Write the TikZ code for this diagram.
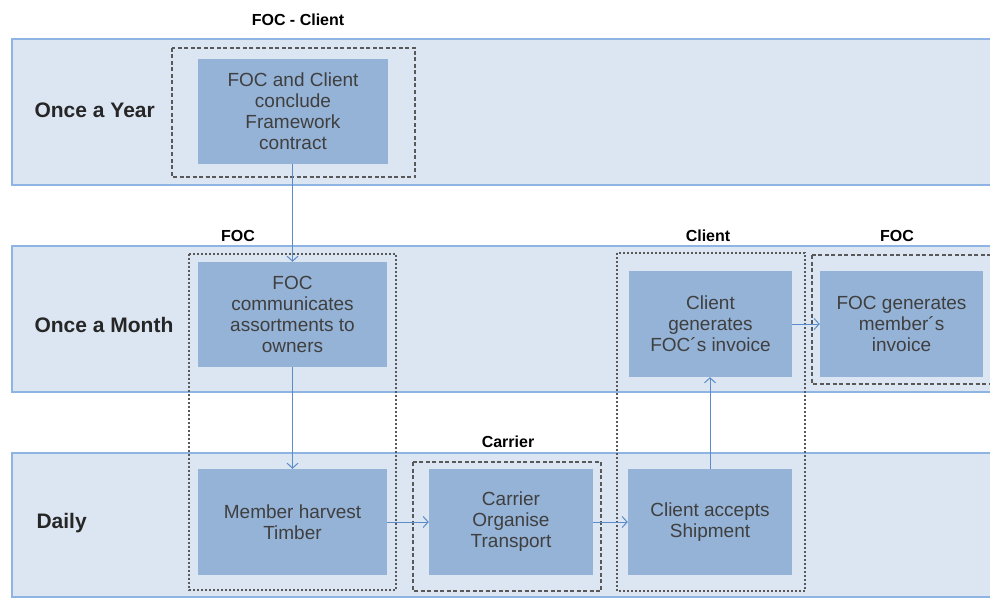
\documentclass[tikz,border=0pt]{standalone}
\usepackage{fontspec}
\setmainfont{Liberation Sans}
\usetikzlibrary{arrows.meta}
\definecolor{bandfill}{HTML}{DCE6F2}
\definecolor{bandline}{HTML}{8EB4E3}
\definecolor{boxfill}{HTML}{95B3D7}
\definecolor{flow}{HTML}{5B8BC9}
\definecolor{boxtext}{HTML}{3F3F3F}
\tikzset{
  band/.style={draw=bandline, line width=1.5pt, fill=bandfill},
  task/.style={fill=boxfill, align=center, text=boxtext, font=\fontsize{19}{21}\selectfont, inner sep=0pt},
  role/.style={font=\fontsize{16}{18}\selectfont\bfseries},
  freq/.style={anchor=west, font=\fontsize{21}{23}\selectfont\bfseries, text=black!85},
  grpdash/.style={draw=black!65, line width=1.6pt, dash pattern=on 4pt off 2.5pt},
  grpdot/.style={draw=black!65, line width=1.6pt, dash pattern=on 1.6pt off 2.4pt},
  flowarr/.style={-{Straight Barb[length=5pt,width=11pt]}, draw=flow, line width=1pt}
}
\begin{document}
\begin{tikzpicture}[x=1pt, y=-1pt]
\useasboundingbox (0,0) rectangle (990,599);
\clip (0,0) rectangle (990,599);
% bands
\draw[band] (12,39) rectangle (1010,185);
\draw[band] (12,246) rectangle (1010,392);
\draw[band] (12,453) rectangle (1010,597);
\node[freq] (year) at (31,110) {Once a Year};
\node[freq] (month) at (31,325) {Once a Month};
\node[freq] (daily) at (33,523) {Daily};
% groups
\draw[grpdash] (172,48) rectangle (415,177);
\draw[grpdot] (189,254) rectangle (396,590);
\draw[grpdash] (413,462) rectangle (601,591);
\draw[grpdot] (617,253) rectangle (805,591);
\draw[grpdash] (812,255) rectangle (1000,384);
\node[role] (focclient) at (298,20) {FOC - Client};
\node[role] (foca) at (238,236) {FOC};
\node[role] (client) at (708,236) {Client};
\node[role] (focb) at (897,236) {FOC};
\node[role] (carrier) at (508,442) {Carrier};
% tasks
\node[task, minimum width=190pt, minimum height=105pt] (contract) at (293,111.5) {FOC and Client\\conclude\\Framework\\contract};
\node[task, minimum width=189pt, minimum height=105pt] (assort) at (292.5,314.5) {FOC\\communicates\\assortments to\\owners};
\node[task, minimum width=189pt, minimum height=106pt] (harvest) at (292.5,522) {Member harvest\\Timber};
\node[task, minimum width=164pt, minimum height=106pt] (transport) at (511,522) {Carrier\\Organise\\Transport};
\node[task, minimum width=164pt, minimum height=106pt] (accept) at (710,522) {Client accepts\\Shipment};
\node[task, minimum width=163pt, minimum height=106pt] (clientinv) at (710.5,324) {Client\\generates\\FOC´s invoice};
\node[task, minimum width=163pt, minimum height=106pt] (memberinv) at (901.5,324) {FOC generates\\member´s\\invoice};
% flow
\draw[flowarr] (contract.south -| assort.north) -- (assort.north);
\draw[flowarr] (assort.south) -- (harvest.north);
\draw[flowarr] (harvest.east) -- (transport.west);
\draw[flowarr] (transport.east) -- (accept.west);
\draw[flowarr] (accept.north) -- (accept.north |- clientinv.south);
\draw[flowarr] (clientinv.east) -- (memberinv.west);
\end{tikzpicture}
\end{document}
